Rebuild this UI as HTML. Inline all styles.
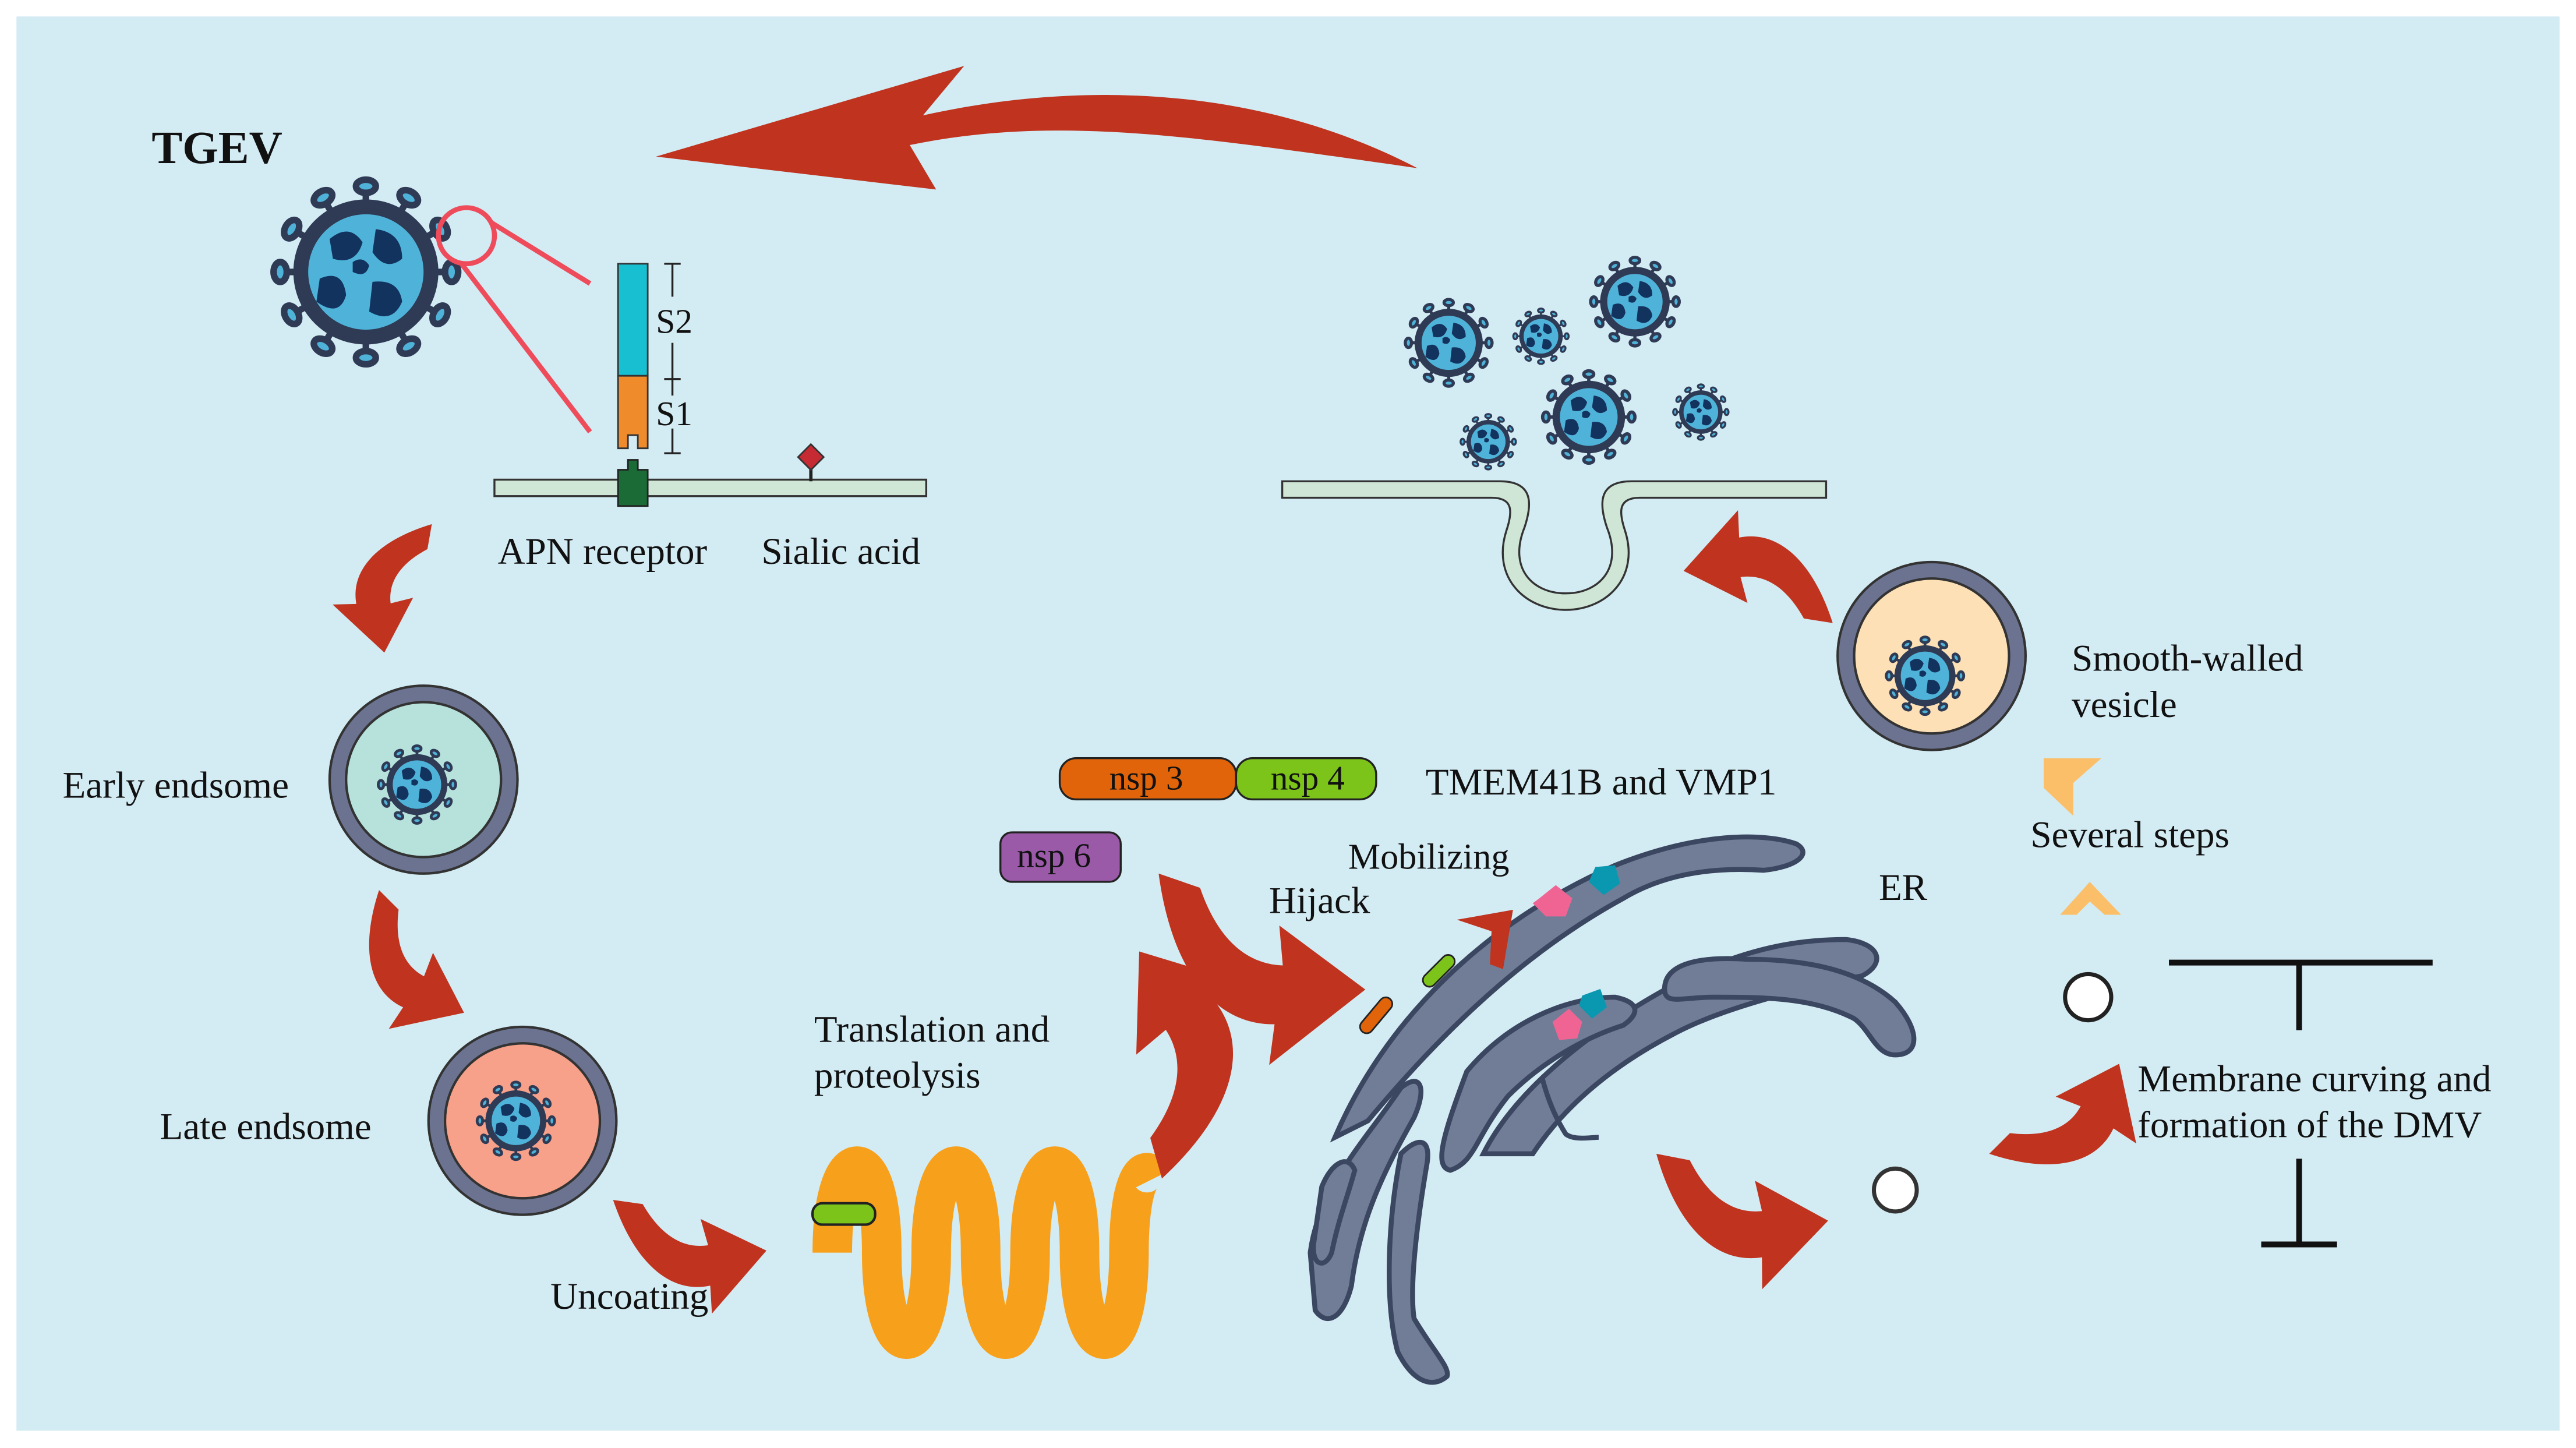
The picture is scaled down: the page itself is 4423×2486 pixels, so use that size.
<!DOCTYPE html>
<html><head><meta charset="utf-8"><style>
html,body{margin:0;padding:0;background:#fff}
svg{display:block}
text{font-family:"Liberation Serif",serif;fill:#111}
</style></head><body>
<svg width="4423" height="2486" viewBox="0 0 1563 878.5" xmlns="http://www.w3.org/2000/svg">
<defs>
<g id="vir">
 <g stroke="#2f3a55" stroke-width="4" fill="#4fb3d9">
  <g id="sp"><line x1="0" y1="-40" x2="0" y2="-50"/><ellipse cx="0" cy="-52" rx="6" ry="4"/></g>
  <use href="#sp" transform="rotate(30)"/><use href="#sp" transform="rotate(60)"/><use href="#sp" transform="rotate(90)"/>
  <use href="#sp" transform="rotate(120)"/><use href="#sp" transform="rotate(150)"/><use href="#sp" transform="rotate(180)"/>
  <use href="#sp" transform="rotate(210)"/><use href="#sp" transform="rotate(240)"/><use href="#sp" transform="rotate(270)"/>
  <use href="#sp" transform="rotate(300)"/><use href="#sp" transform="rotate(330)"/>
 </g>
 <circle r="44" fill="#2f3a55"/>
 <circle r="35" fill="#4fb3d9"/>
 <path d="M-22,-20 q12,-10 20,2 q-4,14 -18,10 z M6,-26 q16,2 16,18 q-10,8 -18,-4 z M-28,4 q14,-6 16,10 q-4,14 -18,4 z M4,6 q16,-2 18,12 q-6,14 -20,6 z M-8,-6 q6,-4 10,2 q-2,8 -10,4z" fill="#13335f"/>
</g>
<path id="arr" d="M0,0 L18,8 C24,32 36,44 52,46 L52,28 L88,60 L42,90 L46,72 C18,70 2,42 0,0 Z" fill="#c0331e"/>
</defs>
<rect x="0" y="0" width="1563" height="878.5" fill="#fff"/>
<rect x="10" y="10" width="1543" height="858" fill="#d3ebf3"/>

<path d="M860,102 C760,50 650,50 560,70 L585,40 L398,95 L568,115 L552,88 C640,70 720,82 860,102 Z" fill="#c0331e"/>

<text x="92" y="99" font-size="28" font-weight="bold">TGEV</text>
<use href="#vir" transform="translate(222,165)"/>
<circle cx="283" cy="143" r="17" fill="none" stroke="#ee4b5b" stroke-width="3"/>
<line x1="298" y1="135" x2="358" y2="172" stroke="#ee4b5b" stroke-width="3"/>
<line x1="280" y1="160" x2="358" y2="262" stroke="#ee4b5b" stroke-width="3"/>
<rect x="375" y="160" width="18" height="68" fill="#18bfd0" stroke="#333" stroke-width="1"/>
<path d="M375,228 h18 v44 h-6 v-8 h-6 v8 h-6 z" fill="#f08b2c" stroke="#333" stroke-width="1"/>
<g stroke="#222" stroke-width="1.2"><line x1="408" y1="160" x2="408" y2="180"/><line x1="403" y1="160" x2="413" y2="160"/>
<line x1="408" y1="208" x2="408" y2="240"/><line x1="403" y1="230" x2="413" y2="230"/>
<line x1="408" y1="260" x2="408" y2="275"/><line x1="403" y1="275" x2="413" y2="275"/></g>
<text x="398" y="202" font-size="21">S2</text><text x="398" y="258" font-size="21">S1</text>
<rect x="300" y="291" width="262" height="10" fill="#cfe6d6" stroke="#333" stroke-width="1.2"/>
<path d="M375,285 h6 v-6 h6 v6 h6 v22 h-18 z" fill="#1a6b36" stroke="#222" stroke-width="1"/>
<line x1="492" y1="282" x2="492" y2="292" stroke="#222" stroke-width="2"/>
<rect x="486" y="272" width="11" height="11" fill="#c62a32" stroke="#333" transform="rotate(45 492 278)"/>
<text x="302" y="342" font-size="23">APN receptor</text>
<text x="462" y="342" font-size="23">Sialic acid</text>

<use href="#arr" transform="translate(262,318) rotate(76) scale(0.78)"/>
<circle cx="257" cy="473" r="57" fill="#6b7390" stroke="#333" stroke-width="1.5"/>
<circle cx="257" cy="473" r="47" fill="#b7e2dc" stroke="#333" stroke-width="1.5"/>
<use href="#vir" transform="translate(253,476) scale(0.42)"/>
<text x="38" y="484" font-size="23">Early endsome</text>
<use href="#arr" transform="translate(230,540) rotate(21) scale(0.85)"/>
<circle cx="317" cy="680" r="57" fill="#6b7390" stroke="#333" stroke-width="1.5"/>
<circle cx="317" cy="680" r="47" fill="#f7a08a" stroke="#333" stroke-width="1.5"/>
<use href="#vir" transform="translate(313,680) scale(0.42)"/>
<text x="97" y="691" font-size="23">Late endsome</text>
<use href="#arr" transform="translate(372,728) rotate(-16) scale(0.92)"/>
<text x="334" y="794" font-size="23">Uncoating</text>

<path d="M505,760 C505,690 535,690 535,760 C535,830 565,830 565,760 C565,690 595,690 595,760 C595,830 625,830 625,760 C625,690 655,690 655,760 C655,830 685,830 685,760 C685,715 695,705 700,715" fill="none" stroke="#f7a01c" stroke-width="24"/>
<rect x="493" y="730" width="38" height="13" rx="6" fill="#7cc31a" stroke="#222" stroke-width="1.5"/>
<use href="#arr" transform="translate(705,715) rotate(-130) scale(1.3)"/>
<text x="494" y="632" font-size="23">Translation and</text>
<text x="494" y="660" font-size="23">proteolysis</text>

<rect x="643" y="460" width="107" height="25" rx="10" fill="#e2640a" stroke="#222" stroke-width="1.2"/>
<text x="673" y="479" font-size="21">nsp 3</text>
<rect x="750" y="460" width="85" height="25" rx="10" fill="#7cc31a" stroke="#222" stroke-width="1.2"/>
<text x="771" y="479" font-size="21">nsp 4</text>
<rect x="607" y="505" width="73" height="30" rx="7" fill="#9a5aa8" stroke="#222" stroke-width="1.2"/>
<text x="617" y="526" font-size="21">nsp 6</text>
<text x="865" y="482" font-size="23">TMEM41B and VMP1</text>
<text x="818" y="527" font-size="22">Mobilizing</text>
<text x="770" y="554" font-size="23">Hijack</text>
<use href="#arr" transform="translate(703,530) rotate(-5) scale(1.35)"/>

<g fill="#717d97" stroke="#3b4660" stroke-width="3">
<path d="M810,690 C840,620 900,560 980,525 C1030,505 1070,505 1090,512 C1100,518 1090,526 1070,528 C1040,526 1010,530 985,545 C930,575 880,620 830,680 Z"/>
<path d="M900,700 C920,660 970,620 1030,590 C1070,572 1100,570 1120,570 C1140,572 1145,584 1130,592 C1100,598 1050,610 1020,625 C980,645 950,670 930,700 Z"/>
<path d="M1010,600 C1010,585 1030,580 1060,582 C1100,582 1130,590 1150,608 C1165,625 1165,640 1150,640 C1138,640 1135,625 1125,618 C1100,605 1070,605 1040,605 C1020,605 1010,610 1010,600 Z"/>
<path d="M890,650 C915,620 950,605 980,605 C995,608 995,615 985,622 C960,630 935,645 915,665 C895,690 895,705 880,710 C870,708 875,690 890,650 Z"/>
<path d="M795,760 C800,720 830,690 850,660 C862,650 866,660 858,678 C840,710 825,740 820,780 C815,800 805,805 798,795 Z"/>
<path d="M850,700 C860,690 868,690 866,705 C860,740 855,780 858,800 C870,820 880,830 878,835 C870,842 858,840 848,820 C840,790 842,740 850,700 Z"/>
<path d="M802,720 C808,705 818,700 822,710 C818,725 812,740 808,760 C804,770 796,768 797,755 Z"/>
</g>
<path d="M936,655 C940,670 945,680 950,688 C955,692 965,690 970,690" fill="none" stroke="#3b4660" stroke-width="3"/>
<rect x="831" y="603" width="8" height="26" rx="4" fill="#e2640a" stroke="#222" transform="rotate(40 835 616)"/>
<rect x="869" y="577" width="8" height="24" rx="4" fill="#7cc31a" stroke="#222" transform="rotate(45 873 589)"/>
<path d="M884,558 L918,552 L912,588 L904,585 L905,565 Z" fill="#c0331e"/>
<polygon points="934,545 944,537 954,545 950,556 938,556 930,548" fill="#f06494"/>
<polygon points="968,526 980,525 983,536 973,543 964,535" fill="#0a97b0"/>
<polygon points="942,620 952,612 960,620 957,630 946,631" fill="#f06494"/>
<polygon points="960,604 971,600 975,611 966,618 958,610" fill="#0a97b0"/>
<text x="1140" y="546" font-size="23">ER</text>
<use href="#arr" transform="translate(1005,700) rotate(-13) scale(1.05)"/>
<circle cx="1150" cy="722" r="13" fill="#fff" stroke="#333" stroke-width="2.5"/>
<use href="#arr" transform="translate(1207,700) rotate(-69) scale(0.9)"/>
<circle cx="1267" cy="605" r="14" fill="#fff" stroke="#222" stroke-width="2.5"/>
<g stroke="#111" stroke-width="3.5"><line x1="1316" y1="584" x2="1476" y2="584"/><line x1="1395" y1="584" x2="1395" y2="625"/>
<line x1="1395" y1="703" x2="1395" y2="755"/><line x1="1372" y1="755" x2="1418" y2="755"/></g>
<text x="1297" y="662" font-size="23">Membrane curving and</text>
<text x="1297" y="690" font-size="23">formation of the DMV</text>
<path d="M1250,555 L1268,535 L1287,555 L1277,555 L1268,547 L1260,555 Z" fill="#fbbf69"/>
<path d="M1240,460 L1275,460 L1258,475 L1258,495 L1240,478 Z" fill="#fbbf69"/>
<text x="1232" y="514" font-size="23">Several steps</text>
<circle cx="1172" cy="398" r="57" fill="#6b7390" stroke="#333" stroke-width="1.5"/>
<circle cx="1172" cy="398" r="47" fill="#fde0b5" stroke="#333" stroke-width="1.5"/>
<use href="#vir" transform="translate(1168,410) scale(0.42)"/>
<text x="1257" y="407" font-size="23">Smooth-walled</text>
<text x="1257" y="435" font-size="23">vesicle</text>
<use href="#arr" transform="translate(1112,378) rotate(165) scale(0.9)"/>

<path d="M778,292 H910 C930,292 930,305 925,320 C915,345 930,360 950,360 C970,360 985,345 975,320 C970,305 970,292 990,292 H1108 V302 H995 C982,302 982,310 986,322 C995,350 975,370 950,370 C925,370 905,350 914,322 C918,310 918,302 905,302 H778 Z" fill="#cfe6d6" stroke="#333" stroke-width="1.2"/>
<use href="#vir" transform="translate(879,208) scale(0.47)"/>
<use href="#vir" transform="translate(935,204) scale(0.3)"/>
<use href="#vir" transform="translate(992,183) scale(0.48)"/>
<use href="#vir" transform="translate(964,253) scale(0.5)"/>
<use href="#vir" transform="translate(903,268) scale(0.3)"/>
<use href="#vir" transform="translate(1032,250) scale(0.3)"/>
</svg>
</body></html>
